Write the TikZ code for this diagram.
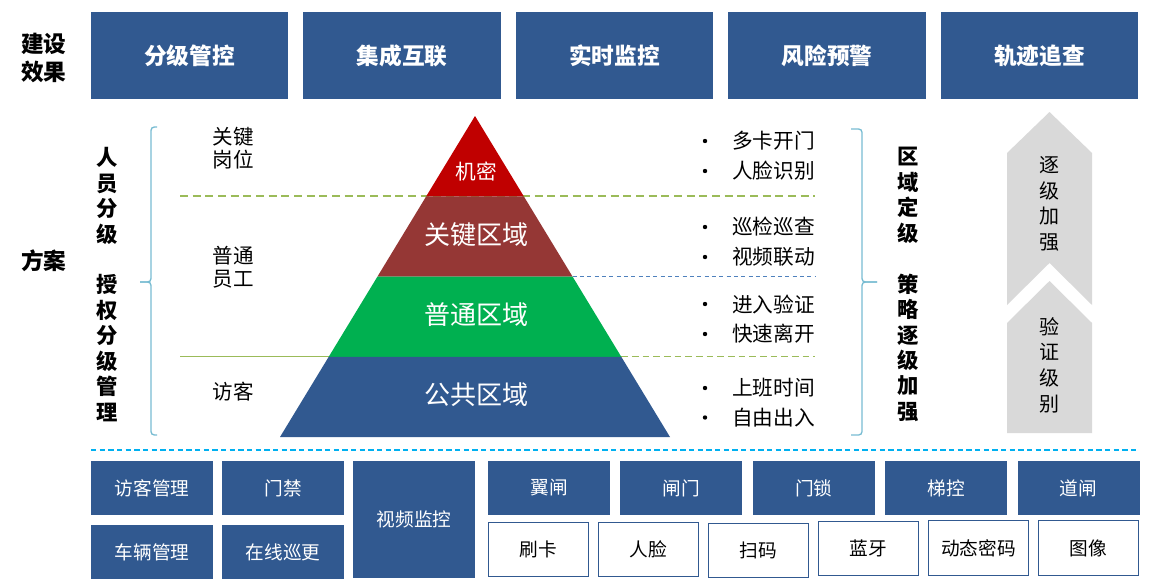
\documentclass[tikz,border=0pt]{standalone}
\usepackage{fontspec}
\setmainfont{Noto Sans CJK SC}
\usepackage{xcolor}
\definecolor{sbblue}{RGB}{49,89,144}
\definecolor{sbred}{RGB}{192,0,0}
\definecolor{sbbrown}{RGB}{149,55,53}
\definecolor{sbgreen}{RGB}{0,176,80}
\definecolor{sbgray}{RGB}{217,217,217}
\definecolor{sbolive}{RGB}{155,187,89}
\definecolor{sbsteel}{RGB}{79,129,189}
\definecolor{sbcyan}{RGB}{0,176,240}
\definecolor{sbbrace}{RGB}{120,188,210}
\usetikzlibrary{calc}
\tikzset{
  hdrbox/.style={fill=sbblue, text=white, inner sep=0pt, minimum width=148pt, minimum height=65.6pt,
    font=\fontsize{17}{20}\selectfont\bfseries},
  sidetitle/.style={inner sep=0pt, align=center, font=\fontsize{17}{21}\selectfont\bfseries},
  vlabel/.style={inner sep=0pt, align=center, font=\fontsize{16}{19.1}\selectfont\bfseries},
  rolelabel/.style={inner sep=0pt, align=center, font=\fontsize{15.4}{17.3}\selectfont},
  zonebig/.style={inner sep=0pt, text=white, font=\fontsize{19.5}{22}\selectfont},
  bulletitem/.style={inner sep=0pt, anchor=west, font=\fontsize{15.5}{18}\selectfont},
  bulletdot/.style={circle, fill=black, inner sep=0pt, minimum size=3.3pt},
  arrowtext/.style={inner sep=0pt, align=center, font=\fontsize{15}{19.3}\selectfont},
  devbox/.style={fill=sbblue, text=white, inner sep=0pt, minimum width=91.5pt, minimum height=40.5pt,
    font=\fontsize{14}{16}\selectfont},
  modebox/.style={draw=sbblue, line width=0.8pt, fill=white, inner sep=0pt, minimum width=75.5pt,
    minimum height=41pt, font=\fontsize{14}{16}\selectfont},
  bracepath/.style={sbbrace, line width=1pt, rounded corners=2.5pt},
}

\begin{document}
\begin{tikzpicture}[x=0.75pt, y=-0.75pt]
  \useasboundingbox (0,0) rectangle (1173,585);

  % --- Top row: results ---
  \node[sidetitle] (resulttitle) at (44,58) {建设\\效果};
  \node[hdrbox] (hdr1) at (189.5,55.5) {分级管控};
  \node[hdrbox] (hdr2) at (402,55.5) {集成互联};
  \node[hdrbox] (hdr3) at (614.5,55.5) {实时监控};
  \node[hdrbox] (hdr4) at (827,55.5) {风险预警};
  \node[hdrbox] (hdr5) at (1039.5,55.5) {轨迹追查};

  % --- Middle: scheme ---
  \node[sidetitle] (schemetitle) at (44,261) {方案};

  % separator lines (behind the pyramid)
  \coordinate (apex) at (475,116);
  \coordinate (bl) at (280,437);
  \coordinate (br) at (670,437);
  \draw[sbolive, line width=1pt, dash pattern=on 6pt off 3.5pt] (180,196) -- (815,196);
  \draw[sbsteel, line width=0.8pt, dash pattern=on 3pt off 2.5pt] ($(apex)!0.5!(br)$) -- (815,276.5);
  \draw[sbolive, line width=1pt] (180,356.75) -- ($(apex)!0.75!(bl)$);
  \draw[sbolive, line width=1pt, dash pattern=on 5pt off 3pt] ($(apex)!0.75!(br)$) -- (815,356.75);

  % Pyramid layers
  \fill[sbred] (apex) -- ($(apex)!0.25!(br)$) -- ($(apex)!0.25!(bl)$) -- cycle;
  \fill[sbbrown] ($(apex)!0.25!(bl)$) -- ($(apex)!0.25!(br)$) -- ($(apex)!0.5!(br)$) -- ($(apex)!0.5!(bl)$) -- cycle;
  \fill[sbgreen] ($(apex)!0.5!(bl)$) -- ($(apex)!0.5!(br)$) -- ($(apex)!0.75!(br)$) -- ($(apex)!0.75!(bl)$) -- cycle;
  \fill[sbblue] ($(apex)!0.75!(bl)$) -- ($(apex)!0.75!(br)$) -- (br) -- (bl) -- cycle;
  \node[inner sep=0pt, text=white, font=\fontsize{15.5}{18}\selectfont] (zsecret) at (476,172) {机密};
  \node[zonebig] (zkey) at (476,235) {关键区域};
  \node[zonebig] (znormal) at (476,315) {普通区域};
  \node[zonebig] (zpublic) at (476,395) {公共区域};

  % Left side: staff grading
  \node[vlabel] (staffgrade) at (107,284.5) {人\\员\\分\\级\\~\\授\\权\\分\\级\\管\\理};
  \draw[bracepath] (157,127) -- (151,127) -- (151,282) -- (140,282);
  \draw[bracepath] (140,282) -- (151,282) -- (151,435) -- (157,435);
  \node[rolelabel] (rkey) at (233.5,148.5) {关键\\岗位};
  \node[rolelabel] (rstaff) at (233.5,267.5) {普通\\员工};
  \node[rolelabel] (rvisitor) at (233.5,392) {访客};

  % Right side: measures per zone
  \node[bulletdot] (d1) at (705,141) {};
  \node[bulletitem] (b1) at (732,141) {多卡开门};
  \node[bulletdot] (d2) at (705,171) {};
  \node[bulletitem] (b2) at (732,171) {人脸识别};
  \node[bulletdot] (d3) at (705,227) {};
  \node[bulletitem] (b3) at (732,227) {巡检巡查};
  \node[bulletdot] (d4) at (705,257) {};
  \node[bulletitem] (b4) at (732,257) {视频联动};
  \node[bulletdot] (d5) at (705,304) {};
  \node[bulletitem] (b5) at (732,304) {进入验证};
  \node[bulletdot] (d6) at (705,334) {};
  \node[bulletitem] (b6) at (732,334) {快速离开};
  \node[bulletdot] (d7) at (705,388) {};
  \node[bulletitem] (b7) at (732,388) {上班时间};
  \node[bulletdot] (d8) at (705,417.5) {};
  \node[bulletitem] (b8) at (732,417.5) {自由出入};
  \draw[bracepath] (851,129) -- (862,129) -- (862,282) -- (877,282);
  \draw[bracepath] (877,282) -- (862,282) -- (862,435) -- (851,435);
  \node[vlabel] (zonegrade) at (908,284.5) {区\\域\\定\\级\\~\\策\\略\\逐\\级\\加\\强};

  % Gray chevron arrows
  \fill[sbgray] (1049.5,112) -- (1092,153) -- (1092,305) -- (1049.5,263) -- (1007,305) -- (1007,153) -- cycle;
  \fill[sbgray] (1049.5,281) -- (1092,323) -- (1092,433) -- (1007,433) -- (1007,323) -- cycle;
  \node[arrowtext] (upper) at (1049.5,204) {逐\\级\\加\\强};
  \node[arrowtext] (lower) at (1049.5,365) {验\\证\\级\\别};

  % --- Bottom: systems and devices ---
  \draw[sbcyan, line width=1.2pt, dash pattern=on 4pt off 2.5pt] (91,450) -- (1138,450);
  \node[devbox] (visitmgmt) at (152,488) {访客管理};
  \node[devbox] (accessctl) at (283,488) {门禁};
  \node[devbox] (carmgmt) at (152,552) {车辆管理};
  \node[devbox] (patrol) at (283,552) {在线巡更};
  \node[devbox, minimum height=87.75pt] (video) at (414,519.5) {视频监控};
  \node[devbox] (turnstile) at (549,488) {翼闸};
  \node[devbox] (gate) at (681.4,488) {闸门};
  \node[devbox] (doorlock) at (813.8,488) {门锁};
  \node[devbox] (liftctl) at (946.2,488) {梯控};
  \node[devbox] (barrier) at (1078.6,488) {道闸};
  \node[modebox] (mcard) at (538.5,549.5) {刷卡};
  \node[modebox] (mface) at (648.5,549.5) {人脸};
  \node[modebox] (mscan) at (758.5,550.5) {扫码};
  \node[modebox] (mbt) at (868.5,548.5) {蓝牙};
  \node[modebox] (mdyn) at (978.5,548) {动态密码};
  \node[modebox] (mimg) at (1088.5,548) {图像};
\end{tikzpicture}
\end{document}
